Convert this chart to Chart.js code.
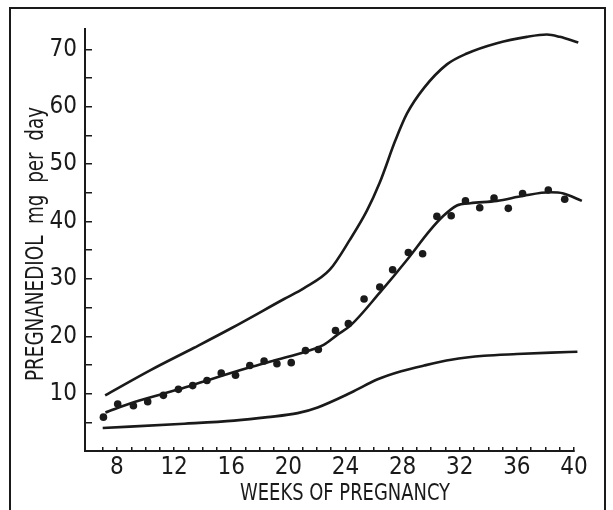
<!DOCTYPE html>
<html>
<head>
<meta charset="utf-8">
<script src="https://cdn.jsdelivr.net/npm/chart.js@4.4.1/dist/chart.umd.min.js"></script>
<style>
  html, body { margin: 0; padding: 0; background: #fff; }
  #wrap { position: relative; width: 613px; height: 510px; }
  #frame { position: absolute; left: 9px; top: 7px; width: 597px; height: 520px;
           border: 2px solid #1a1a1a; box-sizing: border-box; }
  canvas { position: absolute; left: 0; top: 0; }
</style>
</head>
<body>
<div id="wrap">
  <div id="frame"></div>
  <canvas id="chart" width="613" height="510"></canvas>
</div>
<script>
// Curva superior
const upperWeeks  = [7.17, 10.35, 13.4, 16, 19.7, 21.1, 22.9, 24.3, 25.5, 26.4, 27.5, 28.3, 29.5, 31.1, 32.5, 34.6, 36.7, 38.1, 39.0, 40.3];
const upperValues = [9.7, 14.1, 18.0, 21.4, 26.5, 28.4, 31.6, 36.8, 41.9, 46.8, 54.2, 58.8, 63.3, 67.4, 69.3, 71.1, 72.2, 72.6, 72.2, 71.2];

// Curva media (ajuste de los puntos)
const midWeeks  = [7.19, 9.17, 12.32, 14.3, 17.2, 19.2, 21.18, 22.47, 23.4, 24.36, 26.4, 28.3, 29.93, 30.86, 31.8, 32.73, 34.6, 36.46, 38.33, 39.26, 40.55];
const midValues = [6.7, 8.5, 10.75, 12.3, 14.5, 15.9, 17.3, 18.5, 20.2, 21.9, 27.6, 33.3, 38.5, 41.0, 42.8, 43.2, 43.6, 44.5, 45.1, 44.9, 43.6];

// Curva inferior
const lowWeeks  = [7.0, 12.7, 16.2, 18.55, 20.65, 22.05, 24.4, 26.25, 27.9, 29.5, 31.4, 33.7, 36.0, 38.4, 40.24];
const lowValues = [4.0, 4.75, 5.3, 5.9, 6.6, 7.6, 10.2, 12.5, 13.9, 14.9, 15.9, 16.6, 16.9, 17.15, 17.3];

// Puntos observados
const dotWeeks  = [7.05, 8.05, 9.15, 10.15, 11.25, 12.3, 13.3, 14.3, 15.3, 16.3, 17.3, 18.3, 19.2, 20.2, 21.2, 22.1, 23.3, 24.2, 25.3, 26.4, 27.3, 28.4, 29.4, 30.4, 31.4, 32.4, 33.4, 34.4, 35.4, 36.4, 38.2, 39.35, 40.35];
const dotValues = [5.9, 8.2, 7.9, 8.6, 9.7, 10.75, 11.4, 12.3, 13.6, 13.2, 14.9, 15.7, 15.2, 15.4, 17.5, 17.7, 21.0, 22.2, 26.5, 28.6, 31.6, 34.6, 34.4, 40.9, 41.0, 43.6, 42.4, 44.1, 42.3, 44.9, 45.5, 43.9, 43.0];

const xTitle = 'WEEKS OF PREGNANCY';
const yTitle = 'PREGNANEDIOL  mg  per  day';

const INK = '#1a1a1a';
const FAMILY = "'DejaVu Sans Condensed', 'Liberation Sans', sans-serif";

const toPoints = (xs, ys) => xs.map((x, i) => ({ x: x, y: ys[i] }));

const lineSet = (xs, ys) => ({
  data: toPoints(xs, ys),
  showLine: true,
  borderColor: INK,
  borderWidth: 2.6,
  pointRadius: 0,
  tension: 0.4,
  cubicInterpolationMode: 'monotone',
  clip: false
});

// Texto estrechado horizontalmente hasta un ancho dado (letra condensada del original)
function narrowText(ctx, text, width) {
  const w = ctx.measureText(text).width;
  const k = Math.min(1, width / w);
  ctx.scale(k, 1);
  ctx.fillText(text, 0, 0);
}

// Titulos de los ejes dibujados en su sitio exacto
const axisTitles = {
  id: 'axisTitles',
  afterDraw(chart) {
    const ctx = chart.ctx;
    ctx.fillStyle = INK;
    ctx.textAlign = 'center';
    ctx.textBaseline = 'alphabetic';

    ctx.save();
    ctx.font = "23px " + FAMILY;
    ctx.translate(345, 500);
    narrowText(ctx, xTitle, 210);
    ctx.restore();

    ctx.save();
    ctx.font = "25px " + FAMILY;
    ctx.translate(43, 244);
    ctx.rotate(-Math.PI / 2);
    narrowText(ctx, yTitle, 274);
    ctx.restore();
  }
};

new Chart(document.getElementById('chart').getContext('2d'), {
  type: 'scatter',
  data: {
    datasets: [
      lineSet(upperWeeks, upperValues),
      lineSet(midWeeks, midValues),
      lineSet(lowWeeks, lowValues),
      {
        data: toPoints(dotWeeks, dotValues),
        showLine: false,
        pointRadius: 3.8,
        pointBackgroundColor: INK,
        pointBorderWidth: 0,
        clip: false
      }
    ]
  },
  options: {
    responsive: false,
    animation: false,
    layout: { padding: { left: 10, right: 39, top: 22, bottom: 0 } },
    plugins: { legend: { display: false }, tooltip: { enabled: false } },
    scales: {
      x: {
        type: 'linear',
        min: 5.76,
        max: 40,
        afterFit: s => { s.height = 59; },
        border: { color: INK, width: 2 },
        grid: {
          drawOnChartArea: false,
          drawTicks: true,
          tickLength: -4,
          lineWidth: 1.5,
          color: c => (c.tick && c.tick.value >= 7 ? INK : 'rgba(0,0,0,0)')
        },
        ticks: {
          stepSize: 1,
          includeBounds: false,
          autoSkip: false,
          maxRotation: 0,
          padding: 6,
          color: INK,
          font: { family: FAMILY, size: 24 },
          callback: v => (v % 4 === 0 && v >= 8 ? String(v) : '')
        }
      },
      y: {
        min: 0,
        max: 73.5,
        afterFit: s => { s.width = 75; },
        border: { color: INK, width: 2 },
        grid: {
          drawOnChartArea: false,
          drawTicks: true,
          tickLength: -7,
          lineWidth: 1.5,
          color: INK
        },
        ticks: {
          stepSize: 5,
          includeBounds: false,
          autoSkip: false,
          padding: 15,
          color: INK,
          font: { family: FAMILY, size: 24 },
          callback: v => (v % 10 === 0 && v > 0 ? String(v) : '')
        }
      }
    }
  },
  plugins: [axisTitles]
});
</script>
</body>
</html>
